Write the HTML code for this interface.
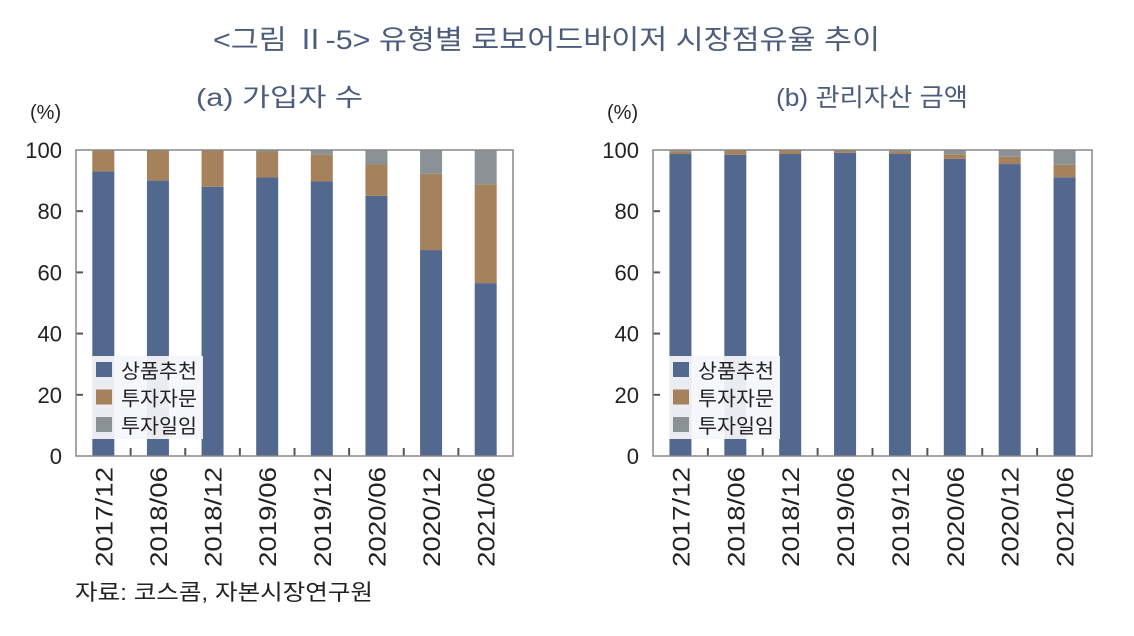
<!DOCTYPE html>
<html><head><meta charset="utf-8"><style>
body{margin:0;background:#fff;width:1134px;height:631px;overflow:hidden;font-family:"Liberation Sans","Noto Sans CJK KR",sans-serif;}
svg text{font-family:"Liberation Sans","Noto Sans CJK KR",sans-serif;}
</style></head><body>
<svg id="c" width="1134" height="631">
<text x="213" y="49" font-size="27" fill="#4c5c7d" textLength="667" lengthAdjust="spacingAndGlyphs">&lt;그림 Ⅱ-5&gt; 유형별 로보어드바이저 시장점유율 추이</text>
<text x="196" y="106" font-size="25" fill="#4c5c7d" textLength="167" lengthAdjust="spacingAndGlyphs">(a) 가입자 수</text>
<text x="776" y="106" font-size="25" fill="#4c5c7d" textLength="192" lengthAdjust="spacingAndGlyphs">(b) 관리자산 금액</text>
<text x="75" y="600" font-size="22" fill="#222" textLength="298" lengthAdjust="spacingAndGlyphs">자료: 코스콤, 자본시장연구원</text>
</svg>
<script>
const categories=["2017/12","2018/06","2018/12","2019/06","2019/12","2020/06","2020/12","2021/06"];
const seriesNames=["상품추천","투자자문","투자일임"];
const aRec=[93,90,88,91,89.7,85,67.3,56.5];
const aAdv=[7,10,12,8.5,8.7,10.4,24.9,32.3];
const aDis=[0,0,0,0.5,1.6,4.6,7.8,11.2];
const bRec=[98.7,98.4,98.7,99.1,98.7,97.1,95.4,91.1];
const bAdv=[0.9,1.6,1.3,0.9,0.8,1.5,2.4,4.1];
const bDis=[0.4,0,0,0,0.5,1.4,2.2,4.8];
const yTicks=[0,20,40,60,80,100];
const colors=["#52688f","#a5825b","#8b9296"];
const svg=document.getElementById('c');
const NS="http://www.w3.org/2000/svg";
function mk(t,a){const e=document.createElementNS(NS,t);for(const k in a)e.setAttribute(k,a[k]);svg.appendChild(e);return e;}
function chart(id,left,right,series){
  const top=150,bottom=456;
  const y=v=>bottom-(v/100)*(bottom-top);
  const step=(right-left)/categories.length;
  const x=i=>left+step*(i+0.5);
  const bw=22;
  yTicks.forEach(t=>{
    const tl=mk('text',{x:left-14,y:y(t)+8,'text-anchor':'end','font-size':22,fill:'#222'});
    tl.textContent=t;
    
    
    if(t>0&&t<100){const tk=mk('line',{x1:left,x2:left+7,y1:y(t),y2:y(t),stroke:'#555','stroke-width':2});
    
    }
  });
  const pu=mk('text',{x:left-46,y:119,'font-size':20,fill:'#222'});pu.textContent='(%)';
  
  
  categories.forEach((c,i)=>{
    let acc=0;
    series.forEach((s,k)=>{
      const v=s[i];
      const r=mk('rect',{x:x(i)-bw/2,y:y(acc+v),width:bw,height:Math.max(0,y(acc)-y(acc+v)),fill:colors[k]});
      
      
      acc+=v;
    });
    if(i>0){const tk=mk('line',{x1:left+step*i,x2:left+step*i,y1:bottom,y2:bottom-8,stroke:'#555','stroke-width':2});
    
    }
    const xl=mk('text',{x:0,y:0,'text-anchor':'end','font-size':24,fill:'#222',textLength:100,lengthAdjust:'spacingAndGlyphs',transform:`translate(${x(i)+9},467) rotate(-90)`});
    xl.textContent=c;
    
    
  });
  const fr=mk('rect',{x:left,y:top,width:right-left,height:bottom-top,fill:'none',stroke:'#888','stroke-width':1.5});
  
  
  const lg=mk('rect',{x:left+16,y:356,width:111,height:83,fill:'rgba(245,246,250,0.93)'});
  
  
  seriesNames.forEach((n,k)=>{
    const sw=mk('rect',{x:left+20,y:362+k*27.5,width:16,height:15,fill:colors[k]});
    
    
    const t=mk('text',{x:left+45,y:378+k*27.5,'font-size':20,fill:'#222',textLength:76,lengthAdjust:'spacingAndGlyphs'});
    t.textContent=n;
    
    
  });
}
chart('chart-a',76,513,[aRec,aAdv,aDis]);
chart('chart-b',653,1092,[bRec,bAdv,bDis]);
</script>
</body></html>
